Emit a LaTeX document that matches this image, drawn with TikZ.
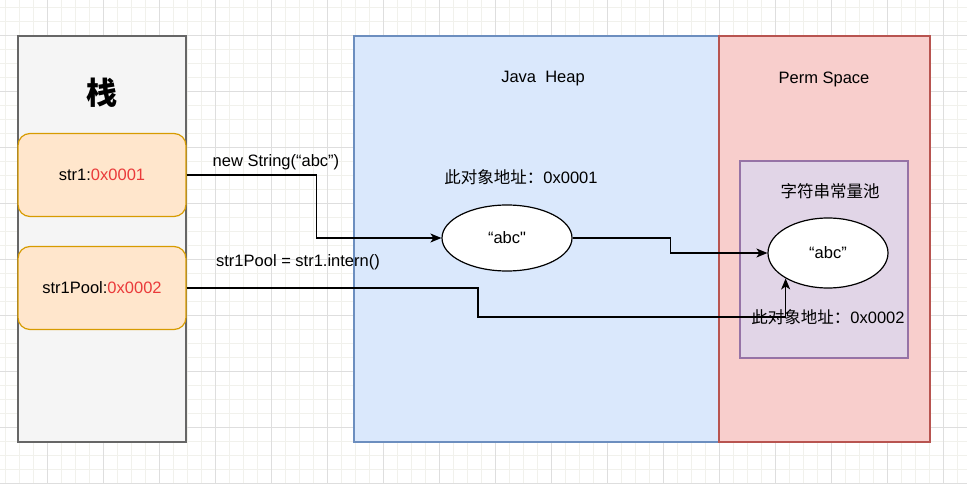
\documentclass[tikz,border=0pt]{standalone}
\usepackage{fontspec}
\setmainfont{Liberation Sans}
\newfontfamily\rawsans{Liberation Sans}
\newfontfamily\cjk{Noto Sans CJK SC}
\usetikzlibrary{arrows.meta,shapes.geometric}
\definecolor{gridminor}{HTML}{F1F1EC}
\definecolor{gridmajor}{HTML}{DEDEDE}
\definecolor{stackfill}{HTML}{F5F5F5}
\definecolor{stackline}{HTML}{666666}
\definecolor{varfill}{HTML}{FFE6CC}
\definecolor{varline}{HTML}{D79B00}
\definecolor{heapfill}{HTML}{DAE8FC}
\definecolor{heapline}{HTML}{6C8EBF}
\definecolor{permfill}{HTML}{F8CECC}
\definecolor{permline}{HTML}{B85450}
\definecolor{poolfill}{HTML}{E1D5E7}
\definecolor{poolline}{HTML}{9673A6}
\definecolor{addr}{HTML}{EA3A3A}
\tikzset{
  region/.style={draw, line width=1.2pt, minimum width=#1, minimum height=406pt, inner sep=0pt},
  varbox/.style={draw=varline, fill=varfill, line width=1.2pt, rounded corners=12pt,
    minimum width=168pt, minimum height=83pt, inner sep=0pt},
  obj/.style={ellipse, draw, fill=white, line width=1.2pt, inner sep=0pt},
  txt/.style={font=\fontsize{16.5}{19}\selectfont, inner sep=0pt},
  ref/.style={line width=1.4pt, -{Stealth[length=11pt,width=9pt,inset=3pt]}},
}
\begin{document}
\begin{tikzpicture}[x=1pt,y=-1pt]
\useasboundingbox (0,0) rectangle (967,484);
\fill[white] (0,0) rectangle (967,484);
\draw[gridminor, line width=0.6pt, shift={(5,7)}, step=14pt] (-5,-7) grid (962,477);
\draw[gridmajor, line width=0.8pt, shift={(47,35)}, step=56pt] (-47,-35) grid (920,449);
% stack
\node[region=168pt, draw=stackline, fill=stackfill] (stack) at (102,239) {};
\node[font=\cjk\bfseries\fontsize{31}{34}\selectfont] (stacktitle) at (102,93) {栈};
\node[varbox, txt] (str1) at (102,175) {str1:\textcolor{addr}{0x0001}};
\node[varbox, txt] (pool1) at (102,288) {str1Pool:\textcolor{addr}{0x0002}};
% heap and perm space
\node[region=365pt, draw=heapline, fill=heapfill] (heap) at (536.5,239) {};
\node[region=211pt, draw=permline, fill=permfill] (perm) at (824.5,239) {};
\node[txt] (heaptitle) at (543,79) {Java\ \ Heap};
\node[txt] (permtitle) at (824,79) {Perm Space};
\node[draw=poolline, fill=poolfill, line width=1.2pt, minimum width=168pt, minimum height=197pt, inner sep=0pt] (pool) at (824,259.5) {};
\node[txt, font=\cjk\fontsize{16.5}{19}\selectfont] (pooltitle) at (830,191) {字符串常量池};
% objects
\node[obj, minimum width=130pt, minimum height=66pt, txt] (heapabc) at (507,238) {“abc{\rawsans"}};
\node[obj, minimum width=120pt, minimum height=70pt, txt] (poolabc) at (828,253) {“abc”};
\node[txt] (addr1) at (521,177) {{\cjk 此对象地址：}0x0001};
% references
\coordinate (bend) at (478,317);
\draw[ref] (str1.east) -- ++(130,0) |- (heapabc.west);
\draw[ref] (heapabc.east) -- ++(98,0) |- (poolabc.west);
\draw[ref] (pool1.east) -| (bend) -| (poolabc.211);
\node[txt] (addr2) at (828,317) {{\cjk 此对象地址：}0x0002};
\node[txt] (newlabel) at (276,162) {new String(“abc”)};
\node[txt] (internlabel) at (298,262) {str1Pool = str1.intern()};
\end{tikzpicture}
\end{document}
